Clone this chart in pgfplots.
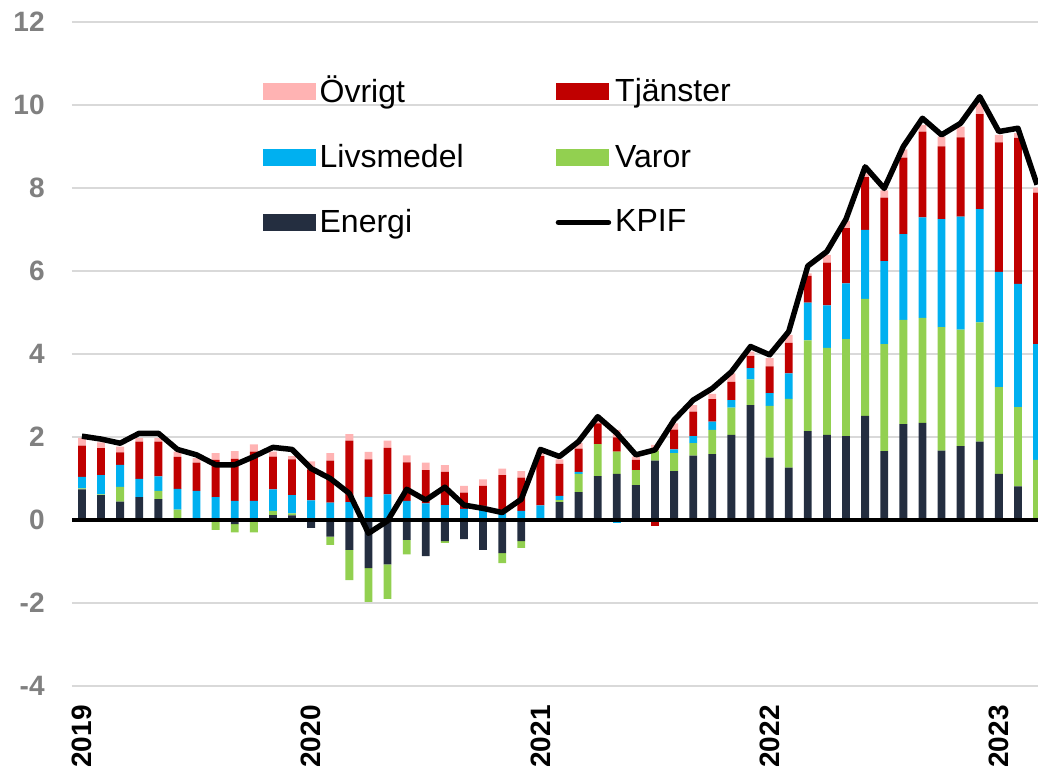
\documentclass[border=0pt]{standalone}
\usepackage{pgfplots}
\pgfplotsset{compat=1.18}
\usepackage{pgfplotstable}
\usepackage{fontspec}
\setmainfont{Liberation Sans}
\definecolor{energi}{HTML}{242E40}
\definecolor{varor}{HTML}{92D050}
\definecolor{livsmedel}{HTML}{00B0F0}
\definecolor{tjanster}{HTML}{C00000}
\definecolor{ovrigt}{HTML}{FFB3B3}
\definecolor{tickgray}{HTML}{808080}
\definecolor{gridgray}{HTML}{D9D9D9}

% positive contributions
\pgfplotstableread{
x E V L T O
0 0.74 0.02 0.28 0.75 0.19
1 0.60 0.02 0.46 0.65 0.14
2 0.44 0.36 0.53 0.30 0.14
3 0.55 0 0.44 0.90 0.09
4 0.50 0.20 0.35 0.84 0.09
5 0 0.25 0.50 0.77 0.13
6 0.02 0 0.68 0.68 0.11
7 0 0 0.55 0.90 0.16
8 0 0 0.46 1.01 0.19
9 0 0 0.46 1.19 0.17
10 0.12 0.10 0.52 0.79 0.12
11 0.11 0.05 0.44 0.86 0.08
12 0 0 0.47 0.75 0.19
13 0 0 0.42 1.01 0.18
14 0 0 0.43 1.48 0.16
15 0 0 0.56 0.90 0.18
16 0 0 0.62 1.12 0.17
17 0 0 0.46 0.93 0.17
18 0 0.03 0.37 0.80 0.18
19 0 0 0.36 0.80 0.16
20 0 0.02 0.25 0.39 0.16
21 0 0 0.34 0.48 0.16
22 0 0 0.16 0.92 0.16
23 0 0 0.22 0.80 0.16
24 0 0 0.35 1.19 0.14
25 0.43 0.05 0.10 0.77 0.11
26 0.67 0.44 0.05 0.56 0.13
27 1.06 0.77 0 0.50 0.08
28 1.11 0.54 0 0.34 0.18
29 0.84 0.36 0 0.25 0.08
30 1.43 0.24 0 0 0.14
31 1.18 0.43 0.09 0.48 0.15
32 1.55 0.30 0.17 0.59 0.16
33 1.59 0.58 0.20 0.54 0.13
34 2.05 0.66 0.18 0.44 0.20
35 2.77 0.62 0.27 0.29 0.11
36 1.50 1.25 0.31 0.64 0.20
37 1.26 1.66 0.61 0.74 0.19
38 2.14 2.19 0.91 0.64 0.06
39 2.05 2.10 1.02 1.03 0.19
40 2.02 2.34 1.34 1.33 0.17
41 2.51 2.82 1.66 1.27 0.09
42 1.66 2.58 2.00 1.53 0.17
43 2.31 2.51 2.07 1.84 0.20
44 2.34 2.53 2.42 2.07 0.16
45 1.67 2.98 2.60 1.75 0.24
46 1.78 2.81 2.72 1.91 0.26
47 1.89 2.87 2.73 2.29 0.26
48 1.11 2.09 2.78 3.12 0.18
49 0.81 1.91 2.97 3.52 0.11
50 0 1.45 2.79 3.65 0.12
}\pos

% negative contributions
\pgfplotstableread{
x E V L T
7 -0.03 -0.21 0 0
8 -0.10 -0.20 0 0
9 0 -0.30 0 0
12 -0.19 0 0 0
13 -0.40 -0.20 0 0
14 -0.72 -0.73 0 0
15 -1.16 -0.81 0 0
16 -1.07 -0.83 0 0
17 -0.48 -0.35 0 0
18 -0.87 0 0 0
19 -0.51 -0.04 0 0
20 -0.46 0 0 0
21 -0.72 0 0 0
22 -0.80 -0.24 0 0
23 -0.51 -0.16 0 0
28 0 0 -0.07 0
30 0 0 0 -0.14
}\neg

% KPIF
\pgfplotstableread{
x K
0 2.02
1 1.95
2 1.85
3 2.09
4 2.09
5 1.70
6 1.57
7 1.33
8 1.33
9 1.53
10 1.75
11 1.70
12 1.24
13 1.00
14 0.64
15 -0.32
16 -0.02
17 0.74
18 0.48
19 0.79
20 0.36
21 0.28
22 0.18
23 0.50
24 1.70
25 1.53
26 1.89
27 2.49
28 2.09
29 1.57
30 1.69
31 2.41
32 2.89
33 3.17
34 3.57
35 4.18
36 3.98
37 4.54
38 6.12
39 6.47
40 7.25
41 8.51
42 7.99
43 9.00
44 9.68
45 9.28
46 9.56
47 10.20
48 9.36
49 9.44
50 8.08
}\kpif

\pgfplotsset{common/.style={scale only axis, width=483pt, height=332pt,
  xmin=-0.52, xmax=50.05, ymin=-4, ymax=12}}

\begin{document}
\begin{tikzpicture}
\useasboundingbox (-36pt,-42.5pt) rectangle (483pt,343pt);
% axis A: grid, ticks, negative bars
\begin{axis}[common, ybar stacked, bar width=0.41,
  axis line style={draw=none}, major tick length=0pt,
  ytick={-4,-2,0,2,4,6,8,10,12},
  xtick={0,12,24,36,48}, xticklabels={2019,2020,2021,2022,2023},
  ymajorgrids, grid style={color=gridgray, line width=0.75pt},
  /pgf/number format/assume math mode=true,
  yticklabel style={font=\bfseries\fontsize{14}{16}\selectfont, text=tickgray, inner sep=0pt},
  yticklabel shift=13.5pt,
  xticklabel style={rotate=90, anchor=east, font=\bfseries\fontsize{14}{16}\selectfont, inner sep=0pt},
  xticklabel shift=9.5pt]
\addplot[fill=energi, draw=none] table[x=x, y=E]{\neg};
\addplot[fill=varor, draw=none] table[x=x, y=V]{\neg};
\addplot[fill=livsmedel, draw=none] table[x=x, y=L]{\neg};
\addplot[fill=tjanster, draw=none] table[x=x, y=T]{\neg};
\end{axis}
% axis B: positive bars
\begin{axis}[common, hide axis, ybar stacked, bar width=0.41]
\addplot[fill=energi, draw=none] table[x=x, y=E]{\pos};
\addplot[fill=varor, draw=none] table[x=x, y=V]{\pos};
\addplot[fill=livsmedel, draw=none] table[x=x, y=L]{\pos};
\addplot[fill=tjanster, draw=none] table[x=x, y=T]{\pos};
\addplot[fill=ovrigt, draw=none] table[x=x, y=O]{\pos};
\end{axis}
% axis C: zero line, KPIF, legend
\begin{axis}[common, hide axis,
  legend columns=2,
  legend cell align=left,
  legend style={at={(axis cs:9.45,10.80)}, anchor=north west, draw=none, fill=none,
    inner sep=0pt, font=\fontsize{16}{19}\selectfont, row sep=15.3pt,
    /tikz/every even column/.append style={column sep=44pt}}]
\addlegendimage{legend image code/.code={\fill[ovrigt] (0pt,-4pt) rectangle (26pt,4pt);}}
\addlegendentry{Övrigt}
\addlegendimage{legend image code/.code={\fill[tjanster] (0pt,-4pt) rectangle (26pt,4pt);}}
\addlegendentry{Tjänster}
\addlegendimage{legend image code/.code={\fill[livsmedel] (0pt,-4pt) rectangle (26pt,4pt);}}
\addlegendentry{Livsmedel}
\addlegendimage{legend image code/.code={\fill[varor] (0pt,-4pt) rectangle (26pt,4pt);}}
\addlegendentry{Varor}
\addlegendimage{legend image code/.code={\fill[energi] (0pt,-4pt) rectangle (26pt,4pt);}}
\addlegendentry{Energi}
\addplot[black, line width=2.25pt, forget plot] coordinates {(-0.52,0) (50.05,0)};
\addplot[black, line width=2.75pt, line join=round,
  legend image code/.code={\draw[black, line width=2.75pt, line cap=round] (1pt,0pt) -- (26pt,0pt);}]
  table[x=x, y=K]{\kpif};
\addlegendentry{KPIF}
\end{axis}
\end{tikzpicture}
\end{document}
